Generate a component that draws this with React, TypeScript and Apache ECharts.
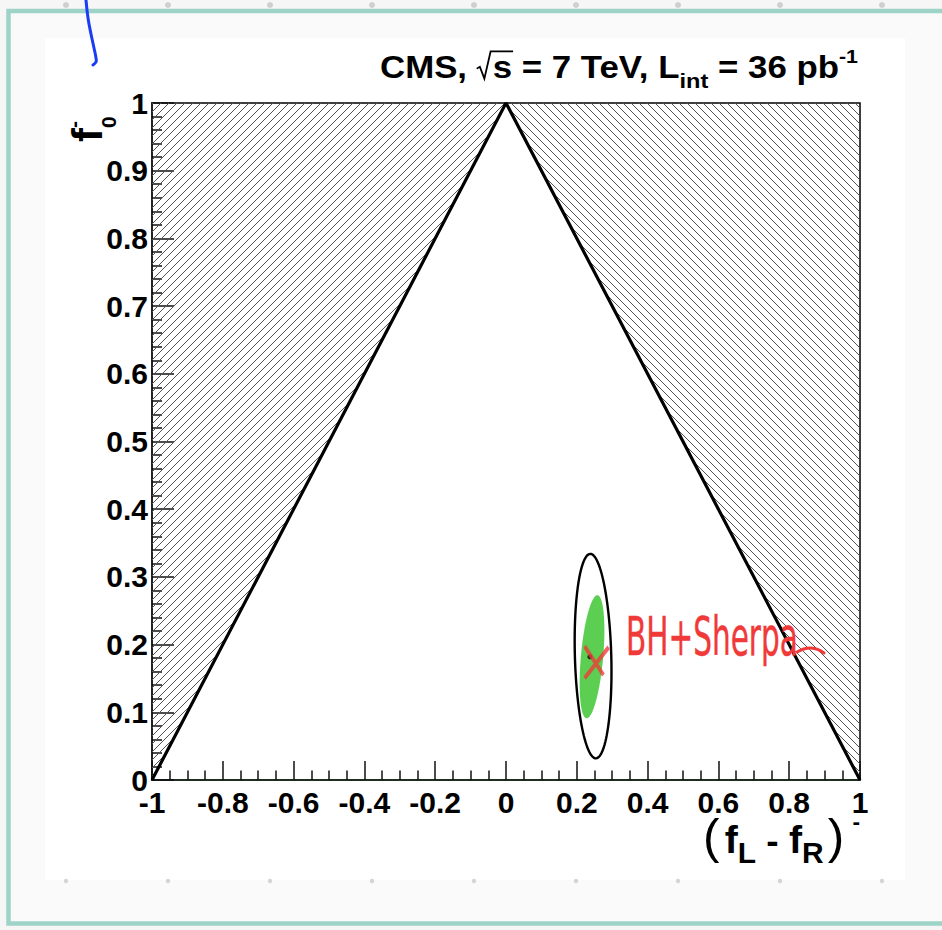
import React, { useEffect, useRef } from 'react';
import * as echarts from 'echarts';

const PAGE_W = 942;
const PAGE_H = 930;
const GRID = { left: 152, top: 103, width: 708, height: 677 };
const FONT = '"Liberation Sans", Arial, Helvetica, sans-serif';

// axis ranges
const xMin = -1, xMax = 1, xStep = 0.2, xMinorSplit = 4;
const yMin = 0, yMax = 1, yStep = 0.1, yMinorSplit = 5;

// physical boundary of the helicity fractions: f0 = 1 - |fL - fR|
const boundaryX = [-1, 0, 1];
const boundaryY = [0, 1, 0];

// unphysical regions as triangles [x0, y0, x1, y1, x2, y2]
const excludedLeft = [-1, 0, -1, 1, 0, 1];
const excludedRight = [0, 1, 1, 1, 1, 0];
const hatchDirection = [0, 1]; // 0: "/", 1: "\"

// fit result: centre and contours [cx, cy, halfX, halfY, correlation]
const fitCentre = [0.237, 0.182];
const innerContour = [0.243, 0.182, 0.035, 0.091, 0.43];
const outerContour = [0.246, 0.183, 0.052, 0.151, -0.15];

// theory prediction
const predictionName = 'BH+Sherpa';
const predictionPoint = [0.256, 0.174];

let measureCtx: CanvasRenderingContext2D | null = null;
function textWidth(text: string, font: string, size: number) {
  if (!measureCtx) measureCtx = document.createElement('canvas').getContext('2d');
  if (!measureCtx) return text.length * size * 0.55;
  measureCtx.font = font;
  return measureCtx.measureText(text).width;
}

type Run = {
  text: string;
  size: number;
  weight?: string;
  dy?: number;
  gap?: number;
  overlay?: boolean;
  radical?: boolean;
};

// lays out a line of text pieces (sub/superscripts) around a baseline at y = 0
function layoutRuns(runs: Run[], color: string) {
  let cursor = 0;
  let prevStart = 0;
  const els: any[] = [];
  for (const r of runs) {
    const font = `${r.weight ?? 'bold'} ${r.size}px ${FONT}`;
    const w = textWidth(r.text, font, r.size);
    const start = r.overlay ? prevStart : cursor + (r.gap ?? 0);
    const dy = r.dy ?? 0;
    let textStart = start;
    if (r.radical) {
      const e = r.size;
      textStart = start + 0.46 * e;
      els.push({
        type: 'polyline',
        shape: {
          points: [
            [start, dy - 0.3 * e],
            [start + 0.09 * e, dy - 0.36 * e],
            [start + 0.22 * e, dy + 0.02 * e],
            [start + 0.4 * e, dy - 0.86 * e],
            [textStart + w + 0.03 * e, dy - 0.86 * e],
          ],
        },
        style: { stroke: color, fill: null, lineWidth: 1.6 },
      });
    }
    els.push({
      type: 'text',
      x: textStart,
      y: dy - 0.35 * r.size,
      style: { text: r.text, font, fill: color, align: 'left', verticalAlign: 'middle' },
    });
    prevStart = start;
    cursor = Math.max(cursor, textStart + w);
  }
  return { els, width: cursor };
}

function fittedGroup(runs: Run[], left: number, right: number, baseline: number, color: string) {
  const { els, width } = layoutRuns(runs, color);
  return {
    type: 'group',
    x: left,
    y: baseline,
    scaleX: (right - left) / width,
    children: els,
    z: 50,
  };
}

// hatch lines clipped to a convex polygon given in pixels
function hatchLines(poly: number[][], dir: number, spacing: number) {
  const f = (p: number[]) => (dir === 0 ? p[0] + p[1] : p[0] - p[1]);
  const vals = poly.map(f);
  const lo = Math.min(...vals), hi = Math.max(...vals);
  const out: number[][] = [];
  for (let c = Math.ceil(lo / spacing) * spacing; c <= hi; c += spacing) {
    const pts: number[][] = [];
    for (let i = 0; i < poly.length; i++) {
      const a = poly[i], b = poly[(i + 1) % poly.length];
      const fa = f(a) - c, fb = f(b) - c;
      if ((fa <= 0 && fb > 0) || (fa > 0 && fb <= 0)) {
        const t = fa / (fa - fb);
        pts.push([a[0] + (b[0] - a[0]) * t, a[1] + (b[1] - a[1]) * t]);
      }
    }
    if (pts.length >= 2) out.push([pts[0][0], pts[0][1], pts[1][0], pts[1][1]]);
  }
  return out;
}

function ellipsePoints(api: any) {
  const cx = api.value(0), cy = api.value(1), a = api.value(2), b = api.value(3), r = api.value(4);
  const pts: number[][] = [];
  const n = 120;
  for (let i = 0; i < n; i++) {
    const t = (i / n) * Math.PI * 2;
    const x = cx + a * Math.cos(t);
    const y = cy + b * (r * Math.cos(t) + Math.sqrt(1 - r * r) * Math.sin(t));
    pts.push(api.coord([x, y]));
  }
  return pts;
}

function buildOption() {
  const dotsX = [66, 168, 270, 372, 474, 576, 678, 780, 882];

  const title = fittedGroup(
    [
      { text: 'CMS, ', size: 31 },
      { text: 's', size: 31, radical: true },
      { text: ' = 7 TeV, L', size: 31 },
      { text: 'int', size: 21, dy: 10 },
      { text: ' = 36 pb', size: 31 },
      { text: '-1', size: 19, dy: -15 },
    ],
    380,
    858,
    78,
    '#000'
  );

  const xTitle = fittedGroup(
    [
      { text: '(', size: 48, weight: 'normal' },
      { text: 'f', size: 38, gap: 5 },
      { text: 'L', size: 29, dy: 10 },
      { text: ' - ', size: 36 },
      { text: 'f', size: 38 },
      { text: 'R', size: 29, dy: 10 },
      { text: ')', size: 48, weight: 'normal', gap: 4 },
      { text: '-', size: 22, dy: -24, gap: 8 },
    ],
    703,
    860,
    853,
    '#000'
  );

  const yTitleRuns = layoutRuns(
    [
      { text: 'f', size: 42 },
      { text: '0', size: 21, dy: 14, gap: 0 },
      { text: '-', size: 21, dy: -21, overlay: true },
    ],
    '#000'
  );
  const yTitle = { type: 'group', x: 102, y: 142, rotation: Math.PI / 2, children: yTitleRuns.els, z: 50 };

  const noteFont = `normal 54px "DejaVu Sans", sans-serif`;
  const noteW = textWidth(predictionName, noteFont, 54);

  const graphic: any[] = [
    { type: 'rect', z: -10, shape: { x: 8.5, y: 11, width: 960, height: 912.5 }, style: { fill: '#fafafa', stroke: '#9ed3c8', lineWidth: 4.5 } },
    { type: 'rect', z: -9, shape: { x: 45, y: 38, width: 860, height: 842 }, style: { fill: '#ffffff' } },
    ...dotsX.map((x) => ({ type: 'circle', z: -8, shape: { cx: x, cy: 5, r: 3 }, style: { fill: '#cfcfcf' } })),
    ...dotsX.map((x) => ({ type: 'circle', z: -8, shape: { cx: x, cy: 881, r: 2.2 }, style: { fill: '#d4d4d4' } })),
    title,
    xTitle,
    yTitle,
    {
      type: 'polyline',
      z: 100,
      shape: { points: [[86, 0], [88, 18], [91, 34], [94, 48], [96, 58], [96, 62], [93, 65]], smooth: 0.4 },
      style: { stroke: '#1b3cf5', lineWidth: 3, fill: null, lineCap: 'round' },
    },
    {
      type: 'text',
      z: 100,
      x: 626,
      y: 636,
      scaleX: 172 / noteW,
      style: { text: predictionName, font: noteFont, fill: '#f03a3a', stroke: '#f03a3a', lineWidth: 0.5, align: 'left', verticalAlign: 'middle' },
    },
    {
      type: 'polyline',
      z: 100,
      shape: { points: [[797, 652], [811, 648], [824, 653]], smooth: 0.5 },
      style: { stroke: '#f03a3a', lineWidth: 3, fill: null, lineCap: 'round' },
    },
  ];

  const labelStyle = { fontFamily: FONT, fontWeight: 'bold' as const, fontSize: 30, color: '#000', lineHeight: 20 };

  return {
    animation: false,
    backgroundColor: '#f6f6f6',
    grid: { ...GRID, show: true, borderColor: '#000', borderWidth: 1.5, backgroundColor: 'transparent', containLabel: false },
    xAxis: {
      type: 'value',
      min: xMin,
      max: xMax,
      interval: xStep,
      axisLine: { show: true, onZero: false, lineStyle: { color: '#1f2f1f', width: 2 } },
      axisTick: { show: true, inside: true, length: 19, lineStyle: { color: '#111', width: 1.5 } },
      minorTick: { show: true, splitNumber: xMinorSplit, length: 9.5, lineStyle: { color: '#111', width: 1.5 } },
      splitLine: { show: false },
      axisLabel: { ...labelStyle, margin: 12 },
    },
    yAxis: {
      type: 'value',
      min: yMin,
      max: yMax,
      interval: yStep,
      axisLine: { show: true, onZero: false, lineStyle: { color: '#222', width: 2 } },
      axisTick: { show: true, inside: true, length: 22, lineStyle: { color: '#111', width: 1.5 } },
      minorTick: { show: true, splitNumber: yMinorSplit, length: 10, lineStyle: { color: '#111', width: 1.5 } },
      splitLine: { show: false },
      axisLabel: { ...labelStyle, margin: 4 },
    },
    graphic,
    series: [
      {
        type: 'custom',
        silent: true,
        z: 1,
        encode: { x: [0, 2, 4], y: [1, 3, 5] },
        data: [
          [...excludedLeft, hatchDirection[0]],
          [...excludedRight, hatchDirection[1]],
        ],
        renderItem: (params: any, api: any) => {
          const poly = [0, 1, 2].map((k) => api.coord([api.value(2 * k), api.value(2 * k + 1)]));
          const lines = hatchLines(poly, api.value(6), 8);
          return {
            type: 'group',
            children: lines.map((l) => ({
              type: 'line',
              shape: { x1: l[0], y1: l[1], x2: l[2], y2: l[3] },
              style: { stroke: '#555', lineWidth: 1 },
            })),
          };
        },
      },
      {
        type: 'custom',
        silent: true,
        z: 3,
        data: [innerContour],
        renderItem: (params: any, api: any) => ({
          type: 'polygon',
          shape: { points: ellipsePoints(api) },
          style: { fill: '#5ccf52', stroke: null },
        }),
      },
      {
        type: 'custom',
        silent: true,
        z: 4,
        data: [outerContour],
        renderItem: (params: any, api: any) => ({
          type: 'polygon',
          shape: { points: ellipsePoints(api) },
          style: { fill: null, stroke: '#000', lineWidth: 2.4 },
        }),
      },
      {
        type: 'line',
        silent: true,
        z: 5,
        clip: false,
        symbol: 'none',
        data: boundaryX.map((x, i) => [x, boundaryY[i]]),
        lineStyle: { color: '#000', width: 3.2 },
      },
      {
        type: 'scatter',
        silent: true,
        z: 6,
        symbolSize: 5,
        itemStyle: { color: '#000' },
        data: [fitCentre],
      },
      {
        type: 'scatter',
        silent: true,
        z: 7,
        symbol: 'path://M0,0L18,28M23,1L0,31',
        symbolSize: [24, 32],
        itemStyle: { color: 'rgba(0,0,0,0)', borderColor: '#f03a3a', borderWidth: 4 },
        data: [predictionPoint],
      },
    ],
  };
}

export default function App() {
  const ref = useRef<HTMLDivElement>(null);
  useEffect(() => {
    if (!ref.current) return;
    const chart = echarts.init(ref.current, null, { renderer: 'svg' });
    chart.setOption(buildOption() as any);
    return () => chart.dispose();
  }, []);
  return <div ref={ref} style={{ position: 'fixed', left: 0, top: 0, width: PAGE_W, height: PAGE_H }} />;
}
